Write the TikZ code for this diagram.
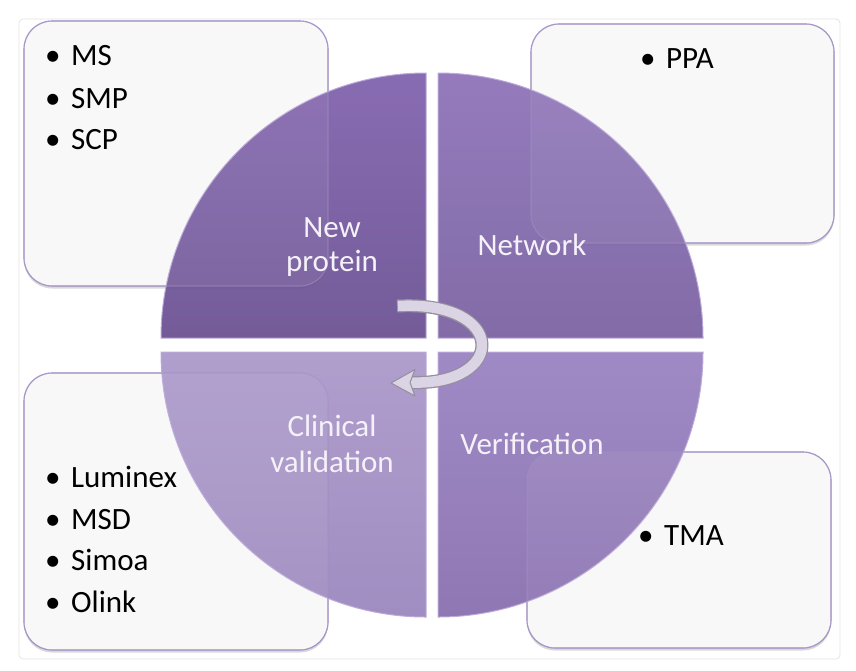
\documentclass[tikz,border=0pt]{standalone}
\usepackage{fontspec}
\setmainfont{Carlito}
\usetikzlibrary{shadows}
\definecolor{boxfill}{HTML}{F8F8F8}
\definecolor{boxline}{HTML}{A696C6}
\definecolor{frameline}{HTML}{E4E4E4}
\definecolor{tlTop}{HTML}{8163AE}
\definecolor{tlBot}{HTML}{6B5192}
\definecolor{trTop}{HTML}{8E73B8}
\definecolor{trBot}{HTML}{7A62A2}
\definecolor{blTop}{HTML}{AB98CA}
\definecolor{blBot}{HTML}{9A86BD}
\definecolor{brTop}{HTML}{9A83C2}
\definecolor{brBot}{HTML}{886FAE}
\definecolor{rim}{HTML}{BBAAD9}
\definecolor{labeltext}{HTML}{F5F1F9}
\definecolor{arrowline}{HTML}{948E9E}
\definecolor{arrowfill}{HTML}{DAD4E4}
\tikzset{
  infobox/.style={draw=boxline, line width=1.1pt, fill=boxfill, rounded corners=28pt,
    inner sep=0pt, drop shadow={shadow xshift=0pt, shadow yshift=-2.5pt, opacity=0.25, fill=black!60}},
  boxoverlay/.style={draw=boxline, draw opacity=0.55, line width=1.1pt, fill=white, fill opacity=0.06,
    rounded corners=28pt, inner sep=0pt},
  quad/.style={draw=rim, line width=1pt, opacity=0.94},
  lbl/.style={text=labeltext, font=\fontsize{31}{36}\selectfont, inner sep=0pt, anchor=base},
  item/.style={text=black, font=\fontsize{31}{36}\selectfont, inner sep=0pt, anchor=base west},
}
\newcommand{\bitem}[1]{\makebox[26pt][l]{\textbullet}#1}
\begin{document}
\begin{tikzpicture}[x=1pt,y=-1pt]
\useasboundingbox (0,0) rectangle (856,670);
% outer frame
\draw[frameline, line width=0.8pt, rounded corners=4pt] (19,19) rectangle (840,659);
% boxes
\node[infobox, minimum width=304pt, minimum height=265pt] (btl) at (176,153.5) {};
\node[infobox, minimum width=303pt, minimum height=219pt] (btr) at (682.5,133.5) {};
\node[infobox, minimum width=304pt, minimum height=277pt] (bbl) at (176,511.5) {};
\node[infobox, minimum width=304pt, minimum height=196pt] (bbr) at (679,550) {};
% quadrants
\path[quad, top color=tlTop, bottom color=tlBot] (426,338) -- (161,338) arc[start angle=180, end angle=270, radius=265] -- cycle;
\path[quad, top color=trTop, bottom color=trBot] (438,338) -- (438,73) arc[start angle=270, end angle=360, radius=265] -- cycle;
\path[quad, top color=brTop, bottom color=brBot] (438,352) -- (703,352) arc[start angle=0, end angle=90, radius=265] -- cycle;
\path[quad, top color=blTop, bottom color=blBot] (426,352) -- (426,617) arc[start angle=90, end angle=180, radius=265] -- cycle;
% box outlines visible through quadrants
\node[boxoverlay, minimum width=304pt, minimum height=265pt] (otl) at (176,153.5) {};
\node[boxoverlay, minimum width=303pt, minimum height=219pt] (otr) at (682.5,133.5) {};
\node[boxoverlay, minimum width=304pt, minimum height=277pt] (obl) at (176,511.5) {};
\node[boxoverlay, minimum width=304pt, minimum height=196pt] (obr) at (679,550) {};
% curved arrow
\coordinate (as) at (397,306);
\coordinate (ae) at (410,382.5);
\coordinate (at) at (391,383);
\draw[arrowline, line width=13pt] (as) .. controls (508,300) and (508,386) .. (ae);
\draw[arrowfill, line width=10.5pt] ([xshift=0.8pt]as) .. controls (508,300) and (508,386) .. (ae);
\fill[arrowfill, draw=arrowline, line width=1pt, line join=round] (at) -- (415,369.5) -- (410,382.5) -- (415,396) -- cycle;
% quadrant labels
\node[lbl] (np1) at (332,237) {New};
\node[lbl] (np2) at (332,271) {protein};
\node[lbl] (nw) at (532,255) {Network};
\node[lbl] (cv1) at (332,436) {Clinical};
\node[lbl] (cv2) at (332,472) {validation};
\node[lbl] (vf) at (532,454) {Verification};
% bullet items
\node[item] (i1) at (45,65.7) {\bitem{MS}};
\node[item] (i2) at (45,108) {\bitem{SMP}};
\node[item] (i3) at (45,149.5) {\bitem{SCP}};
\node[item] (i4) at (640,68) {\bitem{PPA}};
\node[item] (i5) at (45,487) {\bitem{Luminex}};
\node[item] (i6) at (45,529) {\bitem{MSD}};
\node[item] (i7) at (45,570.5) {\bitem{Simoa}};
\node[item] (i8) at (45,612) {\bitem{Olink}};
\node[item] (i9) at (638,545) {\bitem{TMA}};
\end{tikzpicture}
\end{document}
